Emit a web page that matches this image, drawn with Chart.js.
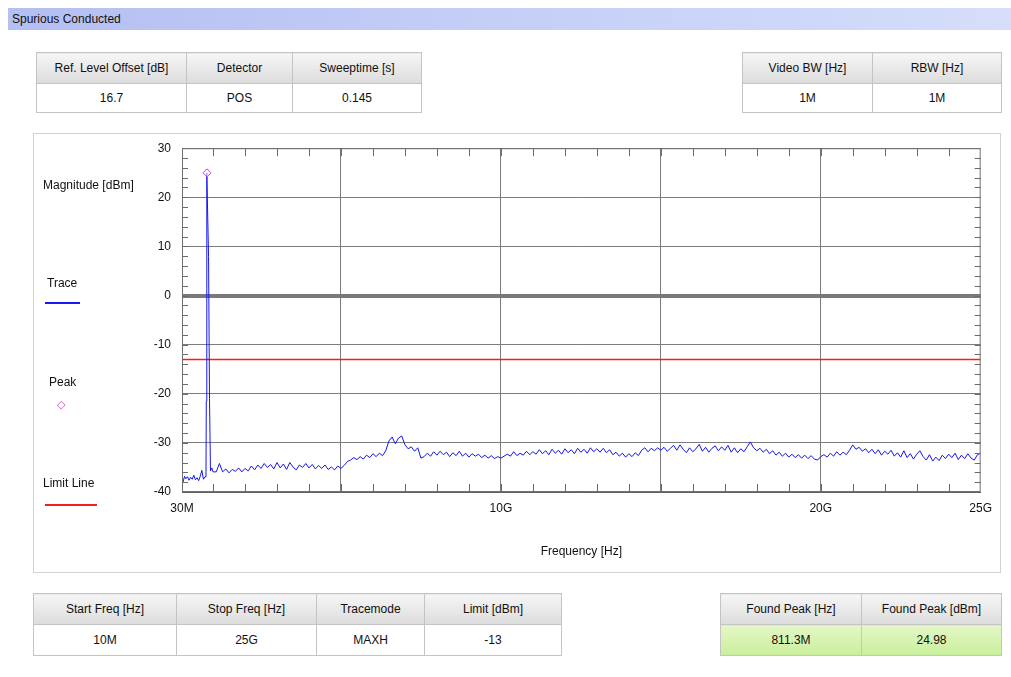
<!DOCTYPE html>
<html>
<head>
<meta charset="utf-8">
<script src="https://cdn.jsdelivr.net/npm/chart.js@4.4.1/dist/chart.umd.min.js"></script>
<style>
  body { margin: 0; background: #ffffff; font-family: "Liberation Sans", Arial, sans-serif; font-size: 12px; color: #111; }
  #page { position: relative; width: 1011px; height: 677px; overflow: hidden; }
  .titlebar { position: absolute; left: 8px; top: 8px; width: 1003px; height: 22px;
    background: linear-gradient(to right, #b4bff2, #d6defb); }
  .titlebar span { position: absolute; left: 4px; top: 4px; font-size: 12px; }
  table.info { position: absolute; border-collapse: collapse; table-layout: fixed; }
  table.info td { border: 1px solid #c4c4c4; text-align: center; padding: 0; font-size: 12px; }
  table.info tr.head td { height: 30px; background: linear-gradient(to bottom, #f6f6f6, #dcdcdc); }
  table.info tr.val td { height: 28px; background: #ffffff; }
  table.info.low tr.val td { height: 30px; }
  table.info tr.val.green td { background: linear-gradient(to bottom, #e4f7c8, #c9ef9c); }
  #panel { position: absolute; left: 33px; top: 133px; width: 966px; height: 438px; border: 1px solid #d2d2d2; }
  #chartBox { position: absolute; left: 34px; top: 130px; width: 967px; height: 441px; }
  .lg { position: absolute; font-size: 12px; }
  .lgline { position: absolute; height: 0; }
</style>
</head>
<body>
<div id="page">
  <div class="titlebar"><span>Spurious Conducted</span></div>

  <table class="info" style="left:36px; top:52px; width:385px;">
    <colgroup><col style="width:150px"><col style="width:106px"><col style="width:129px"></colgroup>
    <tr class="head"><td>Ref. Level Offset [dB]</td><td>Detector</td><td>Sweeptime [s]</td></tr>
    <tr class="val"><td>16.7</td><td>POS</td><td>0.145</td></tr>
  </table>

  <table class="info" style="left:742px; top:52px; width:259px;">
    <colgroup><col style="width:130px"><col style="width:129px"></colgroup>
    <tr class="head"><td>Video BW [Hz]</td><td>RBW [Hz]</td></tr>
    <tr class="val"><td>1M</td><td>1M</td></tr>
  </table>

  <div id="panel"></div>
  <div id="chartBox"><canvas id="spurChart"></canvas></div>

  <div class="lg" style="left:43px; top:178px;">Magnitude [dBm]</div>
  <div class="lg" style="left:47px; top:276px;">Trace</div>
  <div class="lgline" style="left:45px; top:302px; width:35px; border-top:2px solid #1a1aee;"></div>
  <div class="lg" style="left:49px; top:375px;">Peak</div>
  <div class="lg" style="left:57px; top:398px; color:#d040d0; font-size:11px;">&#9671;</div>
  <div class="lg" style="left:43px; top:476px;">Limit Line</div>
  <div class="lgline" style="left:45px; top:504px; width:52px; border-top:2px solid #ee2020;"></div>

  <table class="info low" style="left:33px; top:593px; width:528px;">
    <colgroup><col style="width:143px"><col style="width:140px"><col style="width:108px"><col style="width:137px"></colgroup>
    <tr class="head"><td>Start Freq [Hz]</td><td>Stop Freq [Hz]</td><td>Tracemode</td><td>Limit [dBm]</td></tr>
    <tr class="val"><td>10M</td><td>25G</td><td>MAXH</td><td>-13</td></tr>
  </table>

  <table class="info low" style="left:720px; top:593px; width:281px;">
    <colgroup><col style="width:141px"><col style="width:140px"></colgroup>
    <tr class="head"><td>Found Peak [Hz]</td><td>Found Peak [dBm]</td></tr>
    <tr class="val green"><td>811.3M</td><td>24.98</td></tr>
  </table>
</div>

<script>
// Trace points (frequency in GHz, level in dBm)
const traceFreq = [
  0.03, 0.07, 0.11, 0.15, 0.2, 0.25, 0.3, 0.35, 0.4, 0.45, 0.5, 0.55, 0.6, 0.65, 0.7, 0.75,
  0.78, 0.79, 0.80, 0.8113, 0.86, 0.89, 0.92, 0.96, 1.0,
  1.1, 1.2, 1.3, 1.4, 1.5, 1.6, 1.7, 1.8, 1.9, 2.0,
  2.1, 2.2, 2.3, 2.4, 2.5, 2.6, 2.7, 2.8, 2.9, 3.0,
  3.1, 3.2, 3.3, 3.4, 3.5, 3.6, 3.7, 3.8, 3.9, 4.0,
  4.1, 4.2, 4.3, 4.4, 4.5, 4.6, 4.7, 4.8, 4.9, 5.0,
  5.1, 5.2, 5.3, 5.4, 5.5, 5.6, 5.7, 5.8, 5.9, 6.0,
  6.1, 6.2, 6.3, 6.4, 6.5, 6.6, 6.7, 6.8, 6.9, 7.0,
  7.1, 7.2, 7.3, 7.4, 7.5, 7.6, 7.7, 7.8, 7.9, 8.0,
  8.1, 8.2, 8.3, 8.4, 8.5, 8.6, 8.7, 8.8, 8.9, 9.0,
  9.1, 9.2, 9.3, 9.4, 9.5, 9.6, 9.7, 9.8, 9.9, 10.0,
  10.1, 10.2, 10.3, 10.4, 10.5, 10.6, 10.7, 10.8, 10.9, 11.0,
  11.1, 11.2, 11.3, 11.4, 11.5, 11.6, 11.7, 11.8, 11.9, 12.0,
  12.1, 12.2, 12.3, 12.4, 12.5, 12.6, 12.7, 12.8, 12.9, 13.0,
  13.1, 13.2, 13.3, 13.4, 13.5, 13.6, 13.7, 13.8, 13.9, 14.0,
  14.1, 14.2, 14.3, 14.4, 14.5, 14.6, 14.7, 14.8, 14.9, 15.0,
  15.1, 15.2, 15.3, 15.4, 15.5, 15.6, 15.7, 15.8, 15.9, 16.0,
  16.1, 16.2, 16.3, 16.4, 16.5, 16.6, 16.7, 16.8, 16.9, 17.0,
  17.1, 17.2, 17.3, 17.4, 17.5, 17.6, 17.7, 17.8, 17.9, 18.0,
  18.1, 18.2, 18.3, 18.4, 18.5, 18.6, 18.7, 18.8, 18.9, 19.0,
  19.1, 19.2, 19.3, 19.4, 19.5, 19.6, 19.7, 19.8, 19.9, 20.0,
  20.1, 20.2, 20.3, 20.4, 20.5, 20.6, 20.7, 20.8, 20.9, 21.0,
  21.1, 21.2, 21.3, 21.4, 21.5, 21.6, 21.7, 21.8, 21.9, 22.0,
  22.1, 22.2, 22.3, 22.4, 22.5, 22.6, 22.7, 22.8, 22.9, 23.0,
  23.1, 23.2, 23.3, 23.4, 23.5, 23.6, 23.7, 23.8, 23.9, 24.0,
  24.1, 24.2, 24.3, 24.4, 24.5, 24.6, 24.7, 24.8, 24.9, 25.0
];
const traceLevel = [
  -38.6, -37.8, -36.8, -37.3, -36.9, -37.6, -37.0, -37.4, -36.6, -37.5, -37.1, -37.7, -36.8, -35.6, -37.4, -36.9,
  -35.8, -21.5, 9.0, 24.98, 8.0, -21.0, -35.7, -35.1, -35.9,
  -35.9, -34.2, -35.9, -35.3, -36.1, -35.4, -35.8, -35.1, -35.9, -35.2,
  -35.7, -34.7, -35.5, -34.5, -35.2, -34.2, -35.0, -34.4, -35.3, -34.0,
  -35.1, -34.3, -35.4, -34.0, -34.9, -35.5, -34.5, -35.0, -34.2, -35.1,
  -34.4, -35.3, -34.6, -35.2, -34.5, -35.4, -34.9, -35.5, -34.7, -35.2,
  -34.6, -33.8, -33.5, -33.0, -33.4, -32.8, -33.3, -32.5, -33.0, -32.2,
  -32.8, -32.1, -32.6, -31.6, -29.6, -28.8, -30.2, -29.0, -28.6, -30.4,
  -31.2, -30.8, -31.7, -31.0, -33.1, -32.8, -32.1, -32.7, -31.8, -32.5,
  -31.7, -32.4, -31.9, -32.8, -32.0, -32.6, -31.7, -32.7, -32.1, -32.9,
  -32.2, -32.7, -32.3, -33.0, -32.5, -33.1, -32.6, -33.2, -32.8, -33.1,
  -32.7, -32.3, -32.7, -31.8, -32.6, -32.1, -32.5, -31.7, -32.4, -31.8,
  -32.3, -31.4, -32.2, -31.6, -32.4, -31.3, -32.1, -31.5, -32.3, -31.2,
  -32.0, -31.4, -32.2, -31.1, -31.9, -31.3, -32.1, -31.0, -31.8, -31.2,
  -31.9, -31.1, -32.0, -31.4, -32.4, -31.9, -32.7, -32.1, -32.9, -32.2,
  -32.8, -32.0, -32.6, -31.5, -31.0, -31.8, -31.1, -31.6, -31.0, -31.5,
  -30.9, -31.7, -31.1, -30.5, -31.5, -30.4, -31.3, -32.0, -31.0, -31.8,
  -31.2, -30.3, -31.7, -30.9, -31.9, -31.1, -30.6, -31.6, -30.8, -31.5,
  -30.5, -31.9, -31.0, -32.0, -31.2, -31.8, -30.8, -29.8, -31.0, -31.6,
  -31.1, -31.9, -31.3, -32.2, -31.6, -32.5, -31.9, -32.7, -32.1, -32.9,
  -32.3, -33.0, -32.4, -33.1, -32.5, -33.2, -32.6, -33.3, -33.5, -32.8,
  -32.4, -32.9, -32.1, -32.7, -31.8, -32.5, -31.9, -32.4, -31.5, -30.4,
  -31.3, -30.9, -31.7, -31.2, -32.0, -31.3, -32.2, -31.4, -32.5, -31.7,
  -32.3, -31.5, -32.7, -32.0, -32.9, -31.6, -33.0, -32.2, -33.3, -32.3,
  -31.6, -32.8, -33.5, -32.4, -33.7, -32.9, -33.6, -32.5, -33.2, -32.3,
  -33.0, -32.1, -33.4, -32.5, -33.2, -32.2, -33.1, -33.5, -32.4, -32.1
];

const peakFreq = 0.8113;
const peakLevel = 24.98;
const limitLevel = -13;
const freqStart = 0.03;
const freqStop = 25;

// axis ticks
const xTickValues = [0.03, 5, 10, 15, 20, 25];
const xTickLabels = ['30M', '', '10G', '', '20G', '25G'];
const xMinorStep = 1;     // GHz
const yMinorStep = 2;     // dB

// Small tick marks on all four sides of the plot frame
const minorTicks = {
    id: 'minorTicks',
    afterDatasetsDraw(chart) {
        const { ctx, chartArea: a, scales: { x, y } } = chart;
        ctx.save();
        ctx.strokeStyle = '#6a6a6a';
        ctx.lineWidth = 1;
        ctx.beginPath();
        for (let f = xMinorStep; f < freqStop; f += xMinorStep) {
            const px = Math.round(x.getPixelForValue(f)) + 0.5;
            ctx.moveTo(px, a.bottom); ctx.lineTo(px, a.bottom - 8);
            ctx.moveTo(px, a.top); ctx.lineTo(px, a.top + 8);
        }
        for (let v = -40 + yMinorStep; v < 30; v += yMinorStep) {
            const py = Math.round(y.getPixelForValue(v)) + 0.5;
            ctx.moveTo(a.left, py); ctx.lineTo(a.left + 6, py);
            ctx.moveTo(a.right, py); ctx.lineTo(a.right - 6, py);
        }
        ctx.stroke();
        ctx.strokeStyle = '#707070';
        ctx.strokeRect(a.left + 0.5, a.top + 0.5, a.width - 1, a.height - 1);
        ctx.restore();
    }
};

const ctx = document.getElementById('spurChart').getContext('2d');
new Chart(ctx, {
    type: 'line',
    data: {
        datasets: [
            {
                label: 'Limit Line',
                data: [{ x: freqStart, y: limitLevel }, { x: freqStop, y: limitLevel }],
                borderColor: '#ff1a1a',
                borderWidth: 1.5,
                pointRadius: 0,
                order: 2
            },
            {
                label: 'Trace',
                data: traceFreq.map((f, i) => ({ x: f, y: traceLevel[i] })),
                borderColor: '#1515f0',
                borderWidth: 1,
                pointRadius: 0,
                tension: 0,
                order: 1
            },
            {
                label: 'Peak',
                type: 'scatter',
                data: [{ x: peakFreq, y: peakLevel }],
                pointStyle: 'rectRot',
                pointRadius: 4,
                borderColor: '#d040d0',
                backgroundColor: 'rgba(255,255,255,0.6)',
                borderWidth: 1,
                order: 0
            }
        ]
    },
    options: {
        responsive: true,
        maintainAspectRatio: false,
        animation: false,
        layout: { padding: { left: 0, right: 18, top: 10, bottom: 0 } },
        plugins: {
            legend: { display: false },
            tooltip: { enabled: false }
        },
        scales: {
            x: {
                type: 'linear',
                min: freqStart,
                max: freqStop,
                afterBuildTicks: scale => { scale.ticks = xTickValues.map(v => ({ value: v })); },
                afterFit: scale => { scale.height = 79; },
                grid: {
                    color: c => (c.tick && (c.tick.value === freqStart || c.tick.value === freqStop)) ? 'rgba(0,0,0,0)' : '#7c7c7c',
                    drawTicks: false
                },
                border: { display: true, color: '#606060' },
                ticks: {
                    autoSkip: false,
                    maxRotation: 0,
                    padding: 9,
                    color: '#111',
                    font: { size: 12, family: 'Liberation Sans' },
                    callback: (v, i) => xTickLabels[i]
                },
                title: {
                    display: true,
                    text: 'Frequency [Hz]',
                    color: '#111',
                    font: { size: 12, family: 'Liberation Sans' },
                    padding: { top: 4, bottom: 12 }
                }
            },
            y: {
                min: -40,
                max: 30,
                afterFit: scale => { scale.width = 148; },
                grid: {
                    color: c => c.tick && c.tick.value === 0 ? '#7a7a7a' : '#7c7c7c',
                    lineWidth: c => c.tick && c.tick.value === 0 ? 4 : 1,
                    drawTicks: false
                },
                border: { display: true, color: '#606060' },
                ticks: {
                    stepSize: 10,
                    padding: 11,
                    color: '#111',
                    font: { size: 12, family: 'Liberation Sans' }
                }
            }
        }
    },
    plugins: [minorTicks]
});
</script>
</body>
</html>
